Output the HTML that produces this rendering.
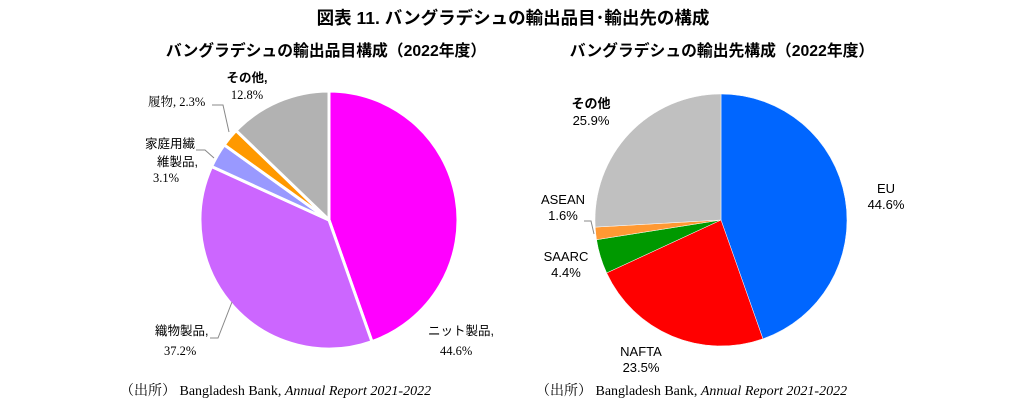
<!DOCTYPE html>
<html><head><meta charset="utf-8"><style>
body{margin:0;background:#fff;width:1024px;height:414px;overflow:hidden}
svg{display:block}
.jp{font-family:"Liberation Sans","Noto Sans CJK JP",sans-serif}
.sf{font-family:"Liberation Serif","Noto Serif CJK SC","Noto Sans CJK JP",serif}
</style></head><body>
<svg id="s" width="1024" height="414" xmlns="http://www.w3.org/2000/svg">
<text x="513" y="24" text-anchor="middle" class="jp" font-size="17.5" font-weight="bold">図表 11. バングラデシュの輸出品目･輸出先の構成</text>
<text x="326" y="56" text-anchor="middle" class="jp" font-size="15.8" font-weight="bold">バングラデシュの輸出品目構成（2022年度）</text>
<text x="722" y="56" text-anchor="middle" class="jp" font-size="15.8" font-weight="bold">バングラデシュの輸出先構成（2022年度）</text>
<g id="p1"></g><g id="p2"></g>
<g class="sf" font-size="12.5" fill="#000">
<text x="247" y="82" text-anchor="middle" class="jp" font-weight="bold">その他,</text>
<text x="247" y="99" text-anchor="middle">12.8%</text>
<text x="148" y="106">履物, 2.3%</text>
<text x="145" y="148" class="jp">家庭用繊</text>
<text x="157" y="166" class="jp">維製品,</text>
<text x="153" y="182">3.1%</text>
<text x="155" y="335" class="jp">織物製品,</text>
<text x="164" y="355">37.2%</text>
<text x="428" y="335" class="jp">ニット製品,</text>
<text x="440" y="355">44.6%</text>
</g>
<g fill="none" stroke="#888" stroke-width="1">
<polyline points="212,105 223,105 229,132"/>
<polyline points="196,150 205,150 214,158"/>
<polyline points="210,338 218,338 232,302"/>
<polyline points="584,221 591,221 594,234"/>
</g>
<g class="jp" font-size="13" fill="#000" text-anchor="middle">
<text x="591" y="108" font-weight="bold">その他</text>
<text x="591" y="125">25.9%</text>
<text x="886" y="193">EU</text>
<text x="886" y="209">44.6%</text>
<text x="563" y="204">ASEAN</text>
<text x="563" y="220">1.6%</text>
<text x="566" y="261">SAARC</text>
<text x="566" y="277">4.4%</text>
<text x="641" y="356">NAFTA</text>
<text x="641" y="372">23.5%</text>
</g>
<text x="120" y="395" class="sf" font-size="14">（出所） Bangladesh Bank, <tspan font-style="italic">Annual Report 2021-2022</tspan></text>
<text x="536" y="395" class="sf" font-size="14">（出所） Bangladesh Bank, <tspan font-style="italic">Annual Report 2021-2022</tspan></text>
</svg>
<script>
function pie(id,cx,cy,r,data,stroke,sw){
 var g=document.getElementById(id),a=0,h='';
 data.forEach(function(d){
  var a0=a,a1=a+d[0]*3.6;a=a1;
  var t0=(a0-90)*Math.PI/180,t1=(a1-90)*Math.PI/180;
  var x0=cx+r*Math.cos(t0),y0=cy+r*Math.sin(t0),x1=cx+r*Math.cos(t1),y1=cy+r*Math.sin(t1);
  h+='<path d="M'+cx+','+cy+'L'+x0+','+y0+'A'+r+','+r+' 0 '+((a1-a0)>180?1:0)+' 1 '+x1+','+y1+'Z" fill="'+d[1]+'" stroke="'+stroke+'" stroke-width="'+sw+'"/>';
 });
 g.innerHTML=h;
}
pie('p1',329,220,129,[[44.6,'#ff00ff'],[37.2,'#cc66ff'],[3.1,'#9999ff'],[2.3,'#ff9900'],[12.8,'#b2b2b2']],'#fff',3);
pie('p2',721,220,126,[[44.6,'#0066ff'],[23.5,'#ff0000'],[4.4,'#009900'],[1.6,'#ff9933'],[25.9,'#c0c0c0']],'#fff',0.5);
</script>
</body></html>
